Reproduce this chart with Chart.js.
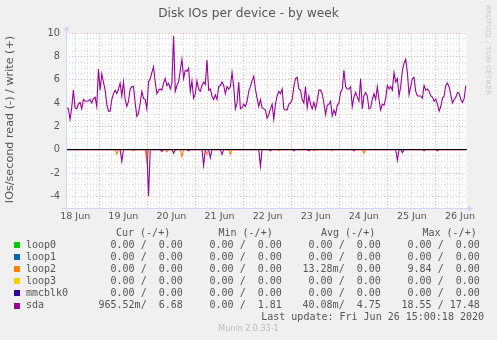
<!DOCTYPE html>
<html lang="en">
<head>
<meta charset="UTF-8">
<title>Disk IOs per device - by week</title>
<style>
    body {
        margin: 0;
        background-color: #F0F0F0;
    }
    .chart-container {
        position: relative;
        width: 497px;
        height: 340px;
    }
</style>
</head>
<body>
<div class="chart-container">
    <canvas id="diskChart" width="497" height="340"></canvas>
</div>

<script src="https://cdn.jsdelivr.net/npm/chart.js"></script>
<script>
    // time axis is in hours since 18 Jun 00:00, one sample every 50 minutes
    const sampleStart = 7.75;
    const sampleStep = 50 / 60;
    const axisStart = 7.4;
    const axisEnd = 207.5;

    // sda writes per second (+)
    const sdaWrite = [
        3.6, 3.5, 2.6, 3.6, 5.1, 3.6, 3.5, 3.9, 4.05, 3.5,
        4.3, 4.15, 4.15, 4.2, 4.3, 4.0, 4.35, 4.5, 3.7, 6.9,
        5.1, 6.5, 5.8, 5.1, 3.9, 3.3, 3.3, 4.3, 4.8, 5.1,
        4.8, 5.2, 5.7, 4.6, 5.8, 4.3, 3.7, 4.15, 5.2, 5.4,
        5.4, 4.0, 2.85, 3.1, 4.0, 5.0, 4.4, 4.3, 3.5, 5.8,
        6.1, 6.6, 7.1, 5.8, 4.8, 5.1, 5.2, 5.1, 5.7, 6.1,
        5.5, 5.7, 5.2, 5.7, 9.75, 5.0, 5.5, 5.8, 6.8, 7.75,
        6.1, 6.8, 6.7, 7.0, 5.0, 5.9, 4.4, 4.8, 5.9, 5.2,
        5.0, 5.5, 5.8, 5.6, 7.7, 5.1, 5.2, 4.6, 4.3, 4.7,
        4.3, 5.4, 5.5, 5.8, 5.5, 4.8, 5.4, 5.2, 5.4, 6.6,
        5.4, 3.5, 4.0, 5.8, 3.5, 3.6, 3.9, 3.7, 4.15, 5.0,
        5.4, 5.9, 6.3, 5.2, 4.4, 3.7, 4.3, 3.6, 3.5, 3.4,
        2.7, 3.0, 3.5, 3.9, 2.6, 3.9, 4.6, 5.0, 4.8, 5.2,
        3.5, 3.4, 3.4, 3.9, 4.0, 4.3, 5.4, 6.1, 6.2, 5.2,
        5.1, 4.3, 4.0, 5.4, 3.6, 4.6, 3.9, 3.5, 4.05, 3.5,
        4.15, 5.1, 5.1, 4.8, 4.0, 3.0, 3.8, 3.9, 4.15, 2.9,
        3.4, 3.0, 3.8, 4.0, 4.9, 5.2, 6.8, 5.4, 5.2, 5.2,
        5.4, 3.7, 4.5, 4.9, 4.5, 4.15, 6.1, 3.5, 4.6, 4.9,
        4.6, 3.5, 3.6, 4.3, 4.8, 4.3, 5.4, 4.3, 3.4, 3.9,
        3.8, 4.4, 5.5, 5.2, 5.4, 5.1, 6.6, 5.8, 6.1, 4.6,
        5.4, 6.8, 7.4, 7.75, 6.6, 4.7, 5.4, 6.1, 6.2, 5.0,
        4.6, 4.6, 4.6, 4.4, 5.5, 5.1, 5.2, 5.0, 4.6, 4.5,
        4.15, 4.35, 3.9, 3.3, 3.7, 4.4, 4.6, 5.5, 5.7, 5.4,
        4.7, 4.0, 4.3, 4.5, 4.9, 4.8, 4.3, 4.05, 4.4, 5.5
    ];

    // reads (-) are zero except for these samples
    const sdaReadIdx = [33, 49, 57, 64, 73, 82, 86, 93, 116, 122, 136, 145, 172, 198, 201, 214, 222];
    const sdaReadVal = [-1.0, -4.0, -0.15, -0.3, -0.1, -1.35, -0.7, -0.4, -1.4, -0.1, -0.1, -0.1, -0.1, -0.9, -0.25, -0.1, -0.1];
    const loop2ReadIdx = [30, 40, 48, 60, 69, 84, 98, 127, 148, 159, 178];
    const loop2ReadVal = [-0.37, -0.1, -1.0, -0.2, -0.6, -0.4, -0.4, -0.1, -0.1, -0.1, -0.3];

    const dayLabels = ['18 Jun', '19 Jun', '20 Jun', '21 Jun', '22 Jun', '23 Jun', '24 Jun', '25 Jun', '26 Jun'];
    const yMin = -5;
    const yMax = 10;

    // legend table
    const devices = ['loop0', 'loop1', 'loop2', 'loop3', 'mmcblk0', 'sda'];
    const deviceColors = ['#00CC00', '#0066B3', '#FF8000', '#FFCC00', '#330099', '#990099'];
    const curRead = ['0.00', '0.00', '0.00', '0.00', '0.00', '965.52m'];
    const curWrite = ['0.00', '0.00', '0.00', '0.00', '0.00', '6.68'];
    const minRead = ['0.00', '0.00', '0.00', '0.00', '0.00', '0.00'];
    const minWrite = ['0.00', '0.00', '0.00', '0.00', '0.00', '1.81'];
    const avgRead = ['0.00', '0.00', '13.28m', '0.00', '0.00', '40.08m'];
    const avgWrite = ['0.00', '0.00', '0.00', '0.00', '0.00', '4.75'];
    const maxRead = ['0.00', '0.00', '9.84', '0.00', '0.00', '18.55'];
    const maxWrite = ['0.00', '0.00', '0.00', '0.00', '0.00', '17.48'];

    const times = sdaWrite.map((_, i) => sampleStart + i * sampleStep);
    const sdaRead = sdaWrite.map(() => 0);
    sdaReadIdx.forEach((k, j) => { sdaRead[k] = sdaReadVal[j]; });
    const loop2Read = sdaWrite.map(() => 0);
    loop2ReadIdx.forEach((k, j) => { loop2Read[k] = loop2ReadVal[j]; });
    const toPoints = arr => arr.map((v, i) => ({ x: times[i], y: v }));

    const xGrid = [];
    for (let h = 12; h < axisEnd; h += 6) xGrid.push(h);
    const yGrid = [];
    for (let v = yMin; v <= yMax; v += 0.5) yGrid.push(v);

    const TEXT = '#555555';
    const MINOR = 'rgba(150,150,150,0.32)';
    const MAJOR = 'rgba(255,90,90,0.45)';
    const AXIS = '#CFD6F8';

    // rrd-style frame: background, title, side texts, arrows, zero rule and legend
    const muninFrame = {
        id: 'muninFrame',
        beforeDraw(chart) {
            const c = chart.ctx;
            c.save();
            c.fillStyle = '#F0F0F0';
            c.fillRect(0, 0, chart.width, chart.height);
            const a = chart.chartArea;
            c.fillStyle = '#FFFFFF';
            c.fillRect(a.left, a.top, a.right - a.left, a.bottom - a.top);
            c.restore();
        },
        afterDatasetsDraw(chart) {
            const c = chart.ctx;
            const a = chart.chartArea;
            const y0 = Math.round(chart.scales.y.getPixelForValue(0) - 0.5) + 0.5;
            c.save();
            c.strokeStyle = '#000000';
            c.lineWidth = 1;
            c.beginPath();
            c.moveTo(a.left, y0);
            c.lineTo(a.right, y0);
            c.stroke();

            // axes with arrows
            c.strokeStyle = AXIS;
            c.fillStyle = AXIS;
            c.beginPath();
            c.moveTo(a.left + 0.5, a.bottom + 4);
            c.lineTo(a.left + 0.5, a.top - 3);
            c.moveTo(a.left - 4, a.bottom + 0.5);
            c.lineTo(a.right + 2, a.bottom + 0.5);
            c.stroke();
            c.beginPath();
            c.moveTo(a.left - 2.5, a.top - 2.5);
            c.lineTo(a.left + 3.5, a.top - 2.5);
            c.lineTo(a.left + 0.5, a.top - 7.5);
            c.closePath();
            c.fill();
            c.beginPath();
            c.moveTo(a.right + 1, a.bottom - 2.5);
            c.lineTo(a.right + 1, a.bottom + 3.5);
            c.lineTo(a.right + 6, a.bottom + 0.5);
            c.closePath();
            c.fill();
            c.restore();
        },
        afterDraw(chart) {
            const c = chart.ctx;
            c.save();
            c.fillStyle = TEXT;
            c.textBaseline = 'middle';
            c.textAlign = 'center';
            c.font = '12.2px "DejaVu Sans"';
            c.fillText('Disk IOs per device - by week', 248.5, 14);

            c.save();
            c.translate(10.5, 119.5);
            c.rotate(-Math.PI / 2);
            c.font = '11.2px "DejaVu Sans"';
            c.fillText('IOs/second read (-) / write (+)', 0, 0);
            c.restore();

            c.save();
            c.translate(488, 5);
            c.rotate(Math.PI / 2);
            c.textAlign = 'left';
            c.fillStyle = '#CCCCCC';
            c.font = '7px "DejaVu Sans"';
            c.fillText('RRDTOOL / TOBI OETIKER', 0, 0);
            c.restore();

            // legend table
            const pair = (r, w) => (r.endsWith('m') ? r : r + ' ').padStart(7) + '/' + w.padStart(6);
            const cols = [
                { x: 98.5, head: 'Cur (-/+)', hx: 116, r: curRead, w: curWrite },
                { x: 197.5, head: 'Min (-/+)', hx: 218.5, r: minRead, w: minWrite },
                { x: 296.5, head: 'Avg (-/+)', hx: 321, r: avgRead, w: avgWrite },
                { x: 395.5, head: 'Max (-/+)', hx: 422.5, r: maxRead, w: maxWrite }
            ];
            c.font = '10px "DejaVu Sans Mono"';
            c.textAlign = 'left';
            cols.forEach(col => c.fillText(col.head, col.hx, 233.7));
            devices.forEach((name, i) => {
                const y = 245 + i * 12.12;
                c.fillStyle = deviceColors[i];
                c.fillRect(14, Math.round(y) - 3, 6, 6);
                c.fillStyle = TEXT;
                c.fillText(name, 26, y);
                cols.forEach(col => c.fillText(pair(col.r[i], col.w[i]), col.x, y));
            });
            c.textAlign = 'right';
            c.fillText('Last update: Fri Jun 26 15:00:18 2020', 484, 317.7);

            c.textAlign = 'center';
            c.fillStyle = '#BBBBBB';
            c.font = '8px "DejaVu Sans"';
            c.fillText('Munin 2.0.33-1', 248.5, 329);
            c.restore();
        }
    };

    const ctx = document.getElementById('diskChart').getContext('2d');

    const config = {
        type: 'line',
        data: {
            datasets: [
                {
                    label: 'sda write',
                    data: toPoints(sdaWrite),
                    borderColor: '#990099',
                    borderWidth: 1.1
                },
                {
                    label: 'sda read',
                    data: toPoints(sdaRead),
                    borderColor: '#990099',
                    borderWidth: 1.1
                },
                {
                    label: 'loop2 read',
                    data: toPoints(loop2Read),
                    borderColor: '#FF8000',
                    borderWidth: 1.1
                }
            ]
        },
        options: {
            responsive: false,
            animation: false,
            devicePixelRatio: 1,
            elements: {
                point: { radius: 0 },
                line: { tension: 0 }
            },
            layout: {
                padding: { left: 0, top: 33, right: 30, bottom: 0 }
            },
            plugins: {
                legend: { display: false },
                tooltip: { enabled: false },
                title: { display: false }
            },
            scales: {
                x: {
                    type: 'linear',
                    min: axisStart,
                    max: axisEnd,
                    afterBuildTicks: s => { s.ticks = xGrid.map(v => ({ value: v })); },
                    afterFit: s => { s.height = 132; },
                    grid: {
                        color: c => (c.tick && c.tick.value % 24 === 0 ? MAJOR : MINOR),
                        lineWidth: 1,
                        drawTicks: false
                    },
                    border: { display: false, dash: [1, 2] },
                    ticks: {
                        autoSkip: false,
                        maxRotation: 0,
                        padding: 3,
                        color: TEXT,
                        font: { family: 'DejaVu Sans', size: 9.5 },
                        callback: v => (v % 24 === 12 ? dayLabels[(v - 12) / 24] : '')
                    }
                },
                y: {
                    min: yMin,
                    max: yMax,
                    afterBuildTicks: s => { s.ticks = yGrid.map(v => ({ value: v })); },
                    afterFit: s => { s.width = 66; },
                    grid: {
                        color: c => {
                            if (!c.tick) return MINOR;
                            const v = c.tick.value;
                            if (v === 0) return 'rgba(0,0,0,0)';
                            return v % 2 === 0 ? MAJOR : MINOR;
                        },
                        lineWidth: 1,
                        drawTicks: false
                    },
                    border: { display: false, dash: [1, 2] },
                    ticks: {
                        autoSkip: false,
                        padding: 6,
                        color: TEXT,
                        font: { family: 'DejaVu Sans', size: 9.8 },
                        callback: v => (v % 2 === 0 ? String(v) : '')
                    }
                }
            }
        },
        plugins: [muninFrame]
    };

    const diskChart = new Chart(ctx, config);
</script>
</body>
</html>
